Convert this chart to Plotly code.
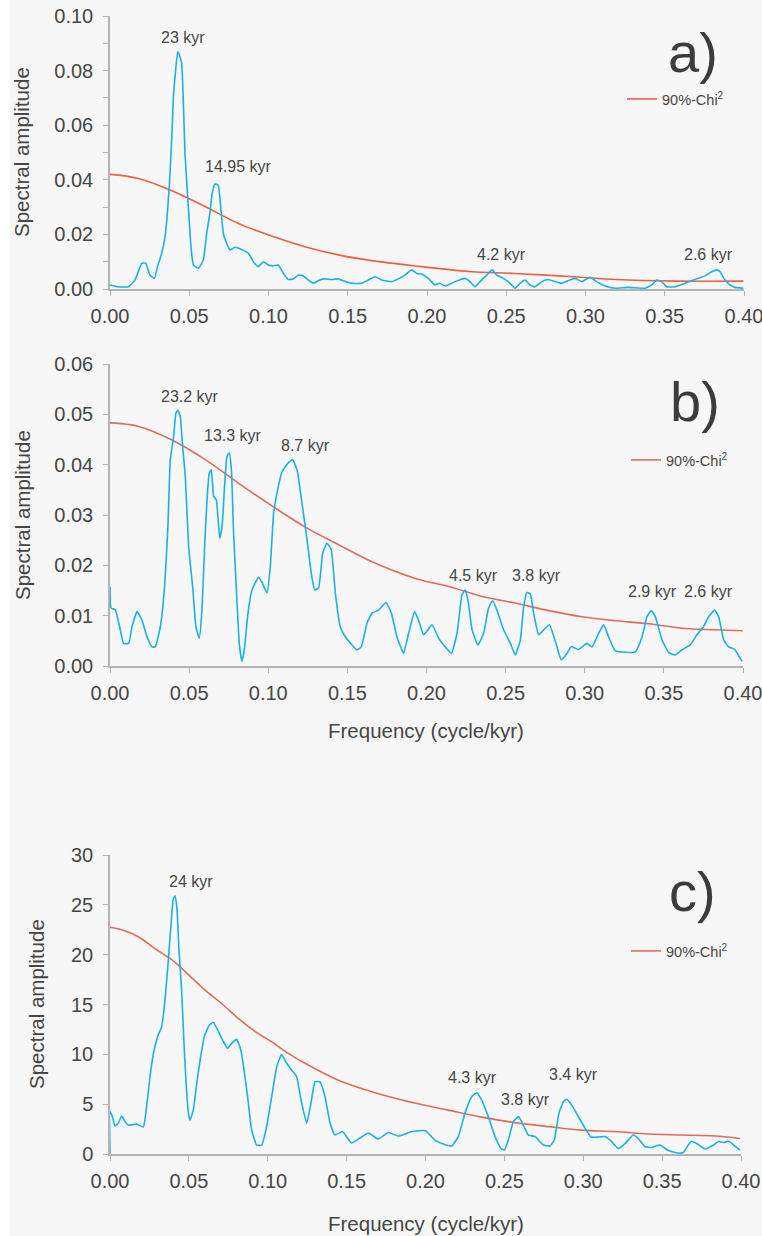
import plotly.graph_objects as go

# page geometry (the page body margin is removed by a tiny post-script, so figure == window)
OX, OY = 0, 0
W, H = 762, 1236

# ---------------- Panel a ----------------
freq_a = [0, 0.005, 0.0115, 0.0158, 0.020, 0.0225, 0.0252, 0.028, 0.030, 0.0326, 0.0347, 0.0358, 0.0374, 0.039,
          0.040, 0.0414, 0.0427, 0.0433, 0.0452, 0.0463, 0.0473, 0.0494, 0.0511, 0.0526, 0.0557, 0.0589, 0.061,
          0.063, 0.0645, 0.0662, 0.0683, 0.070, 0.0715, 0.0736, 0.0757, 0.0789, 0.083, 0.0873, 0.0904, 0.0936,
          0.0967, 0.0999, 0.103, 0.1062, 0.1094, 0.1125, 0.1157, 0.1188, 0.122, 0.1251, 0.1283, 0.1314, 0.1346,
          0.1399, 0.144, 0.1472, 0.1525, 0.1588, 0.163, 0.1672, 0.1714, 0.1777, 0.1819, 0.1861, 0.1903, 0.1935,
          0.1966, 0.2008, 0.205, 0.208, 0.2114, 0.2145, 0.2177, 0.224, 0.2271, 0.2303, 0.2334, 0.2377, 0.2412,
          0.244, 0.2482, 0.2524, 0.2555, 0.2587, 0.2618, 0.265, 0.2681, 0.2724, 0.2765, 0.2808, 0.285, 0.2892,
          0.2934, 0.2976, 0.3028, 0.307, 0.3123, 0.3186, 0.327, 0.3375, 0.3418, 0.3449, 0.348, 0.3512, 0.3565,
          0.3628, 0.3691, 0.3754, 0.3796, 0.3828, 0.3849, 0.388, 0.3912, 0.3943, 0.3996]
amp_a = [0.0015, 0.0008, 0.0008, 0.0033, 0.0094, 0.0095, 0.0051, 0.0039, 0.0082, 0.013, 0.019, 0.025, 0.0375, 0.0558,
         0.0704, 0.080, 0.0869, 0.0865, 0.0827, 0.068, 0.0497, 0.0302, 0.0155, 0.0088, 0.0076, 0.0106, 0.0204,
         0.0277, 0.035, 0.0385, 0.038, 0.029, 0.0204, 0.0167, 0.0143, 0.0153, 0.0145, 0.0131, 0.010, 0.0082,
         0.010, 0.0088, 0.0085, 0.0088, 0.0057, 0.0035, 0.0037, 0.0051, 0.0048, 0.0033, 0.0021, 0.003, 0.0037,
         0.0035, 0.0037, 0.003, 0.0021, 0.0021, 0.0033, 0.0045, 0.0033, 0.0027, 0.0037, 0.0051, 0.007, 0.0057,
         0.0055, 0.0039, 0.0015, 0.0021, 0.0011, 0.0018, 0.0027, 0.0039, 0.0027, 0.0008, 0.0027, 0.0051, 0.007,
         0.0051, 0.0039, 0.0021, 0.0003, 0.0021, 0.0033, 0.0015, 0.0008, 0.0027, 0.0035, 0.0027, 0.0021, 0.0031,
         0.0039, 0.0027, 0.0043, 0.0027, 0.0011, 0.0003, 0.0006, 0.0003, 0.0015, 0.0033, 0.0027, 0.0008, 0.0008,
         0.0021, 0.0035, 0.0048, 0.0063, 0.007, 0.0063, 0.0033, 0.0015, 0.0006, 0.0003]
chi_freq_a = [0, 0.0179, 0.039, 0.06, 0.081, 0.102, 0.123, 0.144, 0.165, 0.1966, 0.228, 0.2555, 0.2976, 0.3186,
              0.3565, 0.3996]
chi_a = [0.042, 0.0405, 0.036, 0.0302, 0.024, 0.0194, 0.0155, 0.0125, 0.0104, 0.0082, 0.0063, 0.0057, 0.0043,
         0.0035, 0.0029, 0.0029]
labels_a = ["23 kyr", "14.95 kyr", "4.2 kyr", "2.6 kyr"]
label_x_a = [0.046, 0.0808, 0.2473, 0.3773]
label_y_a = [0.0923, 0.045, 0.0128, 0.0128]

# ---------------- Panel b ----------------
freq_b = [0, 0.0007, 0.0033, 0.0065, 0.0086, 0.0118, 0.0139, 0.0171, 0.0202, 0.0234, 0.0265, 0.0286, 0.0318,
          0.0345, 0.0366, 0.0381, 0.0402, 0.0417, 0.043, 0.0444, 0.0459, 0.0476, 0.0497, 0.0522, 0.0543, 0.0564,
          0.0581, 0.0598, 0.0613, 0.0627, 0.064, 0.0655, 0.0672, 0.0693, 0.0708, 0.0724, 0.0739, 0.0754, 0.0767,
          0.0781, 0.0802, 0.0817, 0.0834, 0.0851, 0.0872, 0.0897, 0.0939, 0.0964, 0.0992, 0.1013, 0.1034, 0.1055,
          0.1087, 0.1125, 0.1154, 0.1182, 0.1213, 0.1245, 0.1272, 0.1293, 0.1318, 0.1344, 0.1371, 0.1398, 0.1424,
          0.1455, 0.1487, 0.1529, 0.1561, 0.1588, 0.1624, 0.1656, 0.1697, 0.1744, 0.1778, 0.1813, 0.1855, 0.1887,
          0.1925, 0.195, 0.1982, 0.2035, 0.2077, 0.2119, 0.2157, 0.2193, 0.2224, 0.2245, 0.2262, 0.2288, 0.2325,
          0.2361, 0.2392, 0.2418, 0.2445, 0.2487, 0.253, 0.2561, 0.2593, 0.2614, 0.2635, 0.2656, 0.2677, 0.2709,
          0.2741, 0.2777, 0.2815, 0.2852, 0.2888, 0.2915, 0.2961, 0.3014, 0.3046, 0.3088, 0.3119, 0.3151, 0.3193,
          0.332, 0.3362, 0.3393, 0.342, 0.3446, 0.3488, 0.353, 0.3572, 0.3614, 0.3667, 0.3709, 0.3751, 0.3783,
          0.3821, 0.3846, 0.3878, 0.3909, 0.3947, 0.3977, 0.3994]
amp_b = [0.0158, 0.0115, 0.0112, 0.0072, 0.0045, 0.0045, 0.0078, 0.0108, 0.0091, 0.0058, 0.0038, 0.0038, 0.0078,
         0.0158, 0.0277, 0.041, 0.0456, 0.0503, 0.0508, 0.0496, 0.0436, 0.0376, 0.0237, 0.0158, 0.0078, 0.0055,
         0.0111, 0.0237, 0.033, 0.0383, 0.039, 0.0337, 0.033, 0.0254, 0.0277, 0.0357, 0.0416, 0.0423, 0.039,
         0.0264, 0.0131, 0.0045, 0.0009, 0.0038, 0.0105, 0.0151, 0.0176, 0.0164, 0.0145, 0.0198, 0.0304, 0.0343,
         0.0386, 0.0403, 0.041, 0.039, 0.0324, 0.0251, 0.0184, 0.0151, 0.0155, 0.0224, 0.0244, 0.0231, 0.0145,
         0.0078, 0.0058, 0.0042, 0.0032, 0.0038, 0.0085, 0.0105, 0.0111, 0.0126, 0.0105, 0.0058, 0.0025, 0.0065,
         0.0108, 0.0091, 0.0062, 0.0082, 0.0055, 0.0038, 0.0025, 0.0065, 0.0141, 0.0151, 0.0131, 0.0072, 0.0042,
         0.0065, 0.0115, 0.013, 0.0111, 0.0072, 0.0045, 0.0022, 0.0052, 0.0118, 0.0146, 0.0143, 0.0105, 0.0062,
         0.0072, 0.0082, 0.0048, 0.0012, 0.0025, 0.0038, 0.0033, 0.0045, 0.0038, 0.0065, 0.0082, 0.0058, 0.003,
         0.0028, 0.0058, 0.0098, 0.011, 0.0098, 0.0052, 0.0027, 0.0022, 0.0032, 0.0042, 0.0062, 0.0078, 0.0098,
         0.0111, 0.0098, 0.0052, 0.0038, 0.0033, 0.0018, 0.0009]
chi_freq_b = [0, 0.0181, 0.0392, 0.0602, 0.0813, 0.1024, 0.1234, 0.1445, 0.1656, 0.1929, 0.214, 0.2351, 0.2561,
              0.2772, 0.2982, 0.3193, 0.3404, 0.3614, 0.3825, 0.3998]
chi_b = [0.0483, 0.0476, 0.0449, 0.041, 0.0363, 0.0318, 0.0276, 0.0241, 0.0207, 0.0174, 0.0158, 0.0138, 0.0125,
         0.011, 0.0098, 0.009, 0.0084, 0.0075, 0.0072, 0.007]
labels_b = ["23.2 kyr", "13.3 kyr", "8.7 kyr", "4.5 kyr", "3.8 kyr", "2.9 kyr", "2.6 kyr"]
label_x_b = [0.0507, 0.0779, 0.1234, 0.2296, 0.2694, 0.3427, 0.3781]
label_y_b = [0.0535, 0.0457, 0.0439, 0.0179, 0.0179, 0.0149, 0.0149]

# ---------------- Panel c ----------------
freq_c = [0, 0, 0.0015, 0.0032, 0.0053, 0.0074, 0.0095, 0.0116, 0.0169, 0.0211, 0.0232, 0.0254, 0.0275, 0.0302,
          0.0328, 0.0349, 0.037, 0.0387, 0.0401, 0.0412, 0.0425, 0.0437, 0.0454, 0.0467, 0.048, 0.0497, 0.0507,
          0.0528, 0.055, 0.0571, 0.0598, 0.0628, 0.0655, 0.0687, 0.0718, 0.0746, 0.0771, 0.0803, 0.083, 0.0856,
          0.0877, 0.0898, 0.093, 0.0962, 0.0993, 0.1025, 0.1057, 0.1088, 0.112, 0.1152, 0.1183, 0.1215, 0.1247,
          0.1274, 0.13, 0.1331, 0.1363, 0.1395, 0.1426, 0.1473, 0.1532, 0.1585, 0.1638, 0.1701, 0.1764, 0.1828,
          0.1913, 0.1997, 0.206, 0.2113, 0.2166, 0.2208, 0.225, 0.2293, 0.2325, 0.2356, 0.2398, 0.2441, 0.2479,
          0.25, 0.2525, 0.2557, 0.2589, 0.2614, 0.2652, 0.2694, 0.2747, 0.2789, 0.2816, 0.2846, 0.2874, 0.2895,
          0.2927, 0.2969, 0.3011, 0.3049, 0.3096, 0.3138, 0.318, 0.3222, 0.3265, 0.3317, 0.3349, 0.3391, 0.3433,
          0.3486, 0.3539, 0.3603, 0.3634, 0.3683, 0.3719, 0.3772, 0.3825, 0.3857, 0.3888, 0.3919, 0.3962, 0.3994]
amp_c = [0, 4.25, 3.75, 2.8, 3.1, 3.8, 3.25, 2.9, 3.0, 2.7, 4.75, 7.8, 10.1, 11.8, 12.8, 15.5, 19.5, 23.1, 25.6,
         25.9, 24.5, 20.5, 16.5, 11.8, 7.75, 4.1, 3.4, 4.4, 7.1, 9.4, 11.8, 12.9, 13.2, 12.3, 11.3, 10.6, 11.1, 11.5,
         10.4, 7.75, 5.1, 2.4, 0.9, 0.9, 2.75, 5.75, 8.75, 10.0, 9.1, 8.4, 7.75, 5.1, 3.1, 5.1, 7.25, 7.25, 5.75,
         3.1, 1.9, 2.25, 1.1, 1.6, 2.1, 1.5, 2.15, 1.8, 2.25, 2.35, 1.4, 1.0, 0.8, 1.75, 4.1, 5.75, 6.15, 5.4, 3.75,
         1.75, 0.55, 0.4, 1.4, 3.25, 3.75, 3.1, 1.9, 1.75, 0.9, 0.8, 1.4, 4.1, 5.25, 5.5, 4.9, 3.75, 2.6, 1.7, 1.7,
         1.75, 1.25, 0.55, 1.05, 1.9, 1.55, 0.75, 0.65, 0.9, 0.35, 0.1, 0.15, 1.25, 1.05, 0.5, 0.9, 1.25, 1.15, 1.3,
         0.8, 0.4]
chi_freq_c = [0, 0.0074, 0.018, 0.0285, 0.0391, 0.0497, 0.0602, 0.0708, 0.0813, 0.0919, 0.1025, 0.113, 0.1236,
              0.1448, 0.1659, 0.187, 0.2145, 0.2356, 0.2567, 0.2779, 0.299, 0.3201, 0.3412, 0.3624, 0.3835, 0.3994]
chi_c = [22.75, 22.5, 21.8, 20.6, 19.5, 18.0, 16.45, 15.1, 13.6, 12.3, 11.25, 10.1, 9.1, 7.4, 6.25, 5.35, 4.4, 3.7,
         3.15, 2.75, 2.4, 2.25, 2.0, 1.9, 1.8, 1.55]
labels_c = ["24 kyr", "4.3 kyr", "3.8 kyr", "3.4 kyr"]
label_x_c = [0.0514, 0.2301, 0.2631, 0.2935]
label_y_c = [27.3, 7.7, 5.5, 8.0]

panel_letters = ["a)", "b)", "c)"]
legend_name = "90%-Chi<sup>2</sup>"
x_title = "Frequency (cycle/kyr)"
y_title = "Spectral amplitude"

# ---------------- styling ----------------
FONT = "Liberation Sans, Arial, sans-serif"
TXT = "#464646"
AX = "#b4b4b4"
BLUE = "#19b2e6"
RED_A = "#f35d40"
RED_BC = "#e26c58"
BG = "#f7f7f7"


def fx(px):
    """page pixel x -> paper fraction"""
    return (px - OX) / W


def fy(py):
    """page pixel y -> paper fraction"""
    return 1 - (py - OY) / H


def xdom(left, right):
    return [fx(left), fx(right)]


def ydom(top, bottom):
    return [fy(bottom), fy(top)]


fig = go.Figure()

panels = [
    (freq_a, amp_a, chi_freq_a, chi_a, RED_A, "x", "y", "legend"),
    (freq_b, amp_b, chi_freq_b, chi_b, RED_BC, "x2", "y2", "legend2"),
    (freq_c, amp_c, chi_freq_c, chi_c, RED_BC, "x3", "y3", "legend3"),
]
for f_x, f_y, c_x, c_y, rc, xa, ya, lg in panels:
    fig.add_trace(go.Scatter(x=c_x, y=c_y, mode="lines", name=legend_name,
                             line=dict(color=rc, width=1.6, shape="spline"),
                             xaxis=xa, yaxis=ya, legend=lg, showlegend=True, hoverinfo="skip"))
    fig.add_trace(go.Scatter(x=f_x, y=f_y, mode="lines",
                             line=dict(color=BLUE, width=1.6, shape="spline", smoothing=0.4),
                             xaxis=xa, yaxis=ya, showlegend=False, hoverinfo="skip"))

common = dict(showline=True, linecolor=AX, linewidth=1.5, ticks="outside", ticklen=5, tickcolor=AX, tickwidth=1.3,
              showgrid=False, zeroline=False, automargin=False, ticklabeloverflow="allow",
              tickfont=dict(family=FONT, size=20, color=TXT))

xcommon = dict(common, range=[0, 0.4], tickvals=[0, 0.05, 0.1, 0.15, 0.2, 0.25, 0.3, 0.35, 0.4], tickformat=".2f",
               ticklabelstandoff=3)
ycommon = dict(common, ticklabelstandoff=6)

fig.update_layout(
    template="none",
    width=W, height=H, autosize=False,
    margin=dict(l=0, r=0, t=0, b=0, pad=0, autoexpand=False),
    paper_bgcolor=BG, plot_bgcolor=BG,
    font=dict(family=FONT, color=TXT),
    xaxis=dict(xcommon, domain=xdom(110, 744), anchor="y"),
    yaxis=dict(ycommon, domain=ydom(16, 289), anchor="x", range=[0, 0.1], tickvals=[0, 0.02, 0.04, 0.06, 0.08, 0.1],
               tickformat=".2f",
               minor=dict(tickvals=[0.01, 0.03, 0.05, 0.07, 0.09], ticks="outside", ticklen=5, tickcolor=AX)),
    xaxis2=dict(xcommon, domain=xdom(110, 743), anchor="y2"),
    yaxis2=dict(ycommon, domain=ydom(364, 666), anchor="x2", range=[0, 0.06], dtick=0.01, tickformat=".2f"),
    xaxis3=dict(xcommon, domain=xdom(110, 741), anchor="y3"),
    yaxis3=dict(ycommon, domain=ydom(855, 1154), anchor="x3", range=[0, 30], dtick=5, tickformat="d"),
)

legend_style = dict(xanchor="left", yanchor="middle", bgcolor="rgba(0,0,0,0)", borderwidth=0,
                    font=dict(family=FONT, size=14.5, color=TXT), itemwidth=30)
fig.update_layout(
    legend=dict(legend_style, x=fx(622), y=fy(99)),
    legend2=dict(legend_style, x=fx(626), y=fy(460)),
    legend3=dict(legend_style, x=fx(626), y=fy(951)),
)

# peak labels
for labs, lx, ly, xa, ya in [(labels_a, label_x_a, label_y_a, "x", "y"),
                             (labels_b, label_x_b, label_y_b, "x2", "y2"),
                             (labels_c, label_x_c, label_y_c, "x3", "y3")]:
    for t, x, y in zip(labs, lx, ly):
        fig.add_annotation(text=t, x=x, y=y, xref=xa, yref=ya, showarrow=False,
                           font=dict(family=FONT, size=16, color=TXT), xanchor="center", yanchor="middle")

# panel letters
for t, px, py in zip(panel_letters, [693, 695, 692], [52, 401, 891]):
    fig.add_annotation(text=t, x=fx(px), y=fy(py), xref="paper", yref="paper", showarrow=False,
                       font=dict(family=FONT, size=56, color="#3c3c3c"), xanchor="center", yanchor="middle")

# y titles
for px, py in [(22, 152), (22, 515), (36, 1004)]:
    fig.add_annotation(text=y_title, x=fx(px), y=fy(py), xref="paper", yref="paper", showarrow=False,
                       textangle=-90, font=dict(family=FONT, size=20.5, color=TXT),
                       xanchor="center", yanchor="middle")

# x titles
for py in [730, 1223]:
    fig.add_annotation(text=x_title, x=fx(426), y=fy(py), xref="paper", yref="paper", showarrow=False,
                       font=dict(family=FONT, size=20.5, color=TXT), xanchor="center", yanchor="middle")

# thin white strip along the left edge of the page, as in the reference
fig.add_shape(type="rect", xref="paper", yref="paper", x0=0, x1=fx(10), y0=0, y1=1,
              fillcolor="white", line=dict(width=0), layer="below")

fig.write_html(
    "out.html",
    config={"responsive": False, "displayModeBar": False},
    post_script="document.body.style.margin='0';document.body.style.overflow='hidden';",
)
